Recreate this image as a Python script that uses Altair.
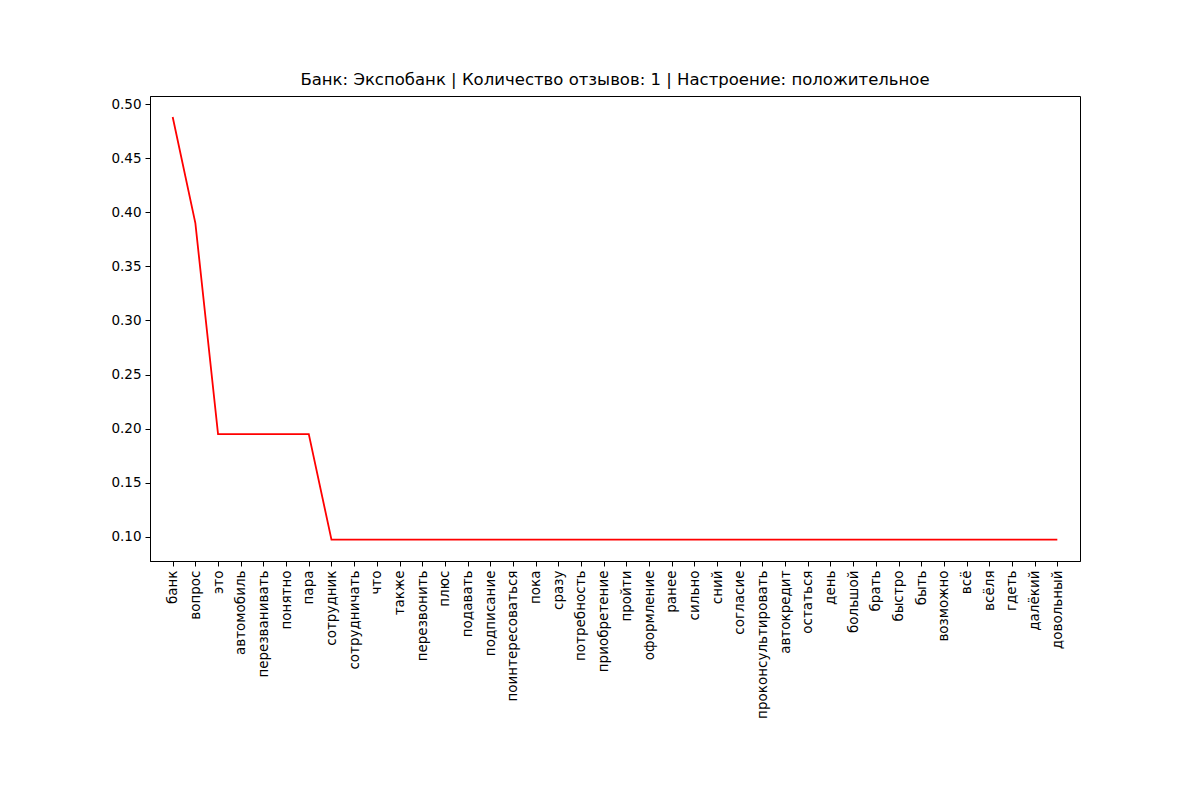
import altair as alt
import pandas as pd

words = ["банк","вопрос","это","автомобиль","перезванивать","понятно","пара","сотрудник",
"сотрудничать","что","также","перезвонить","плюс","подавать","подписание","поинтересоваться",
"пока","сразу","потребность","приобретение","пройти","оформление","ранее","сильно","сний",
"согласие","проконсультировать","автокредит","остаться","день","большой","брать","быстро",
"быть","возможно","всё","всёля","гдеть","далёкий","довольный"]
values = [0.488, 0.39] + [0.195]*5 + [0.0975]*33

df = pd.DataFrame({"word": words, "value": values})

chart = alt.Chart(df).mark_line(color="red", strokeWidth=1.8).encode(
    x=alt.X("word:N", sort=words, title=None,
            scale=alt.Scale(type="point", padding=3.92),
            axis=alt.Axis(labelAngle=270, labelAlign="right", labelBaseline="middle",
                          labelFontSize=13.5, labelColor="black", tickColor="black",
                          domainColor="black", tickSize=5, labelPadding=4, grid=False)),
    y=alt.Y("value:Q", title=None,
            scale=alt.Scale(domain=[0.0778, 0.5074], nice=False, zero=False),
            axis=alt.Axis(values=[0.1,0.15,0.2,0.25,0.3,0.35,0.4,0.45,0.5], format=".2f",
                          labelFontSize=13.5, labelColor="black", tickColor="black",
                          domainColor="black", tickSize=5, labelPadding=4, grid=False)),
).properties(
    width=930, height=465,
    title=alt.TitleParams("Банк: Экспобанк | Количество отзывов: 1 | Настроение: положительное",
                          fontSize=16.5, fontWeight="normal", color="black", offset=8),
    autosize=alt.AutoSizeParams(type="none"),
    padding={"left": 142, "top": 88, "right": 110, "bottom": 220},
).configure(font="DejaVu Sans").configure_view(stroke="black", strokeWidth=1)

chart.save("out.html", embed_options={"renderer": "svg", "actions": False})
